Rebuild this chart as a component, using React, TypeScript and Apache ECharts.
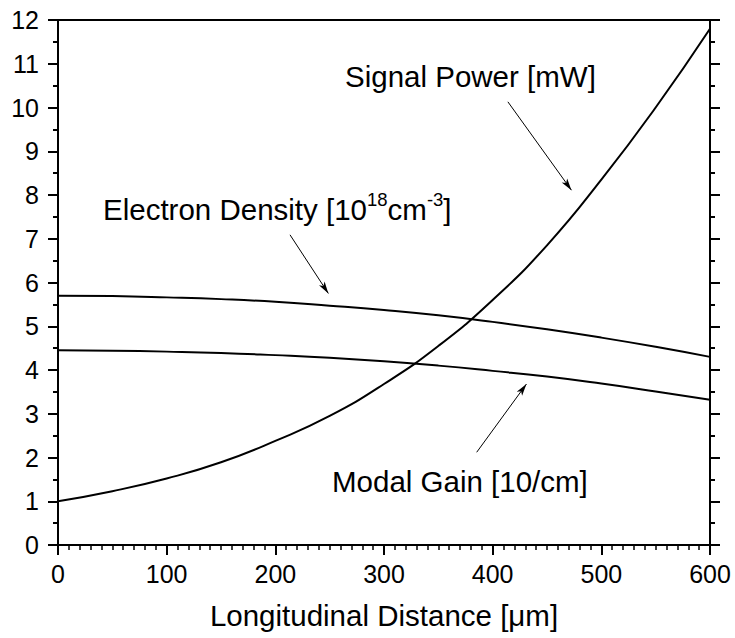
import React, { useEffect, useRef } from "react";
import * as echarts from "echarts";

// Longitudinal distance [µm]
const distance = [0, 50, 100, 150, 200, 250, 300, 350, 400, 450, 500, 550, 600];
// Signal power [mW]
const signalPower = [1.0, 1.23, 1.52, 1.89, 2.38, 2.95, 3.68, 4.55, 5.6, 6.85, 8.35, 10.0, 11.8];
// Electron density [1e18 cm^-3]
const electronDensity = [5.7, 5.69, 5.66, 5.62, 5.56, 5.47, 5.37, 5.25, 5.1, 4.93, 4.74, 4.53, 4.3];
// Modal gain [10/cm]
const modalGain = [4.45, 4.44, 4.42, 4.39, 4.34, 4.28, 4.2, 4.1, 3.98, 3.85, 3.69, 3.51, 3.32];

// Annotation arrows in data coordinates: [startX, startY, endX, endY]
const signalArrow = [414, 10.13, 472.5, 8.11];
const electronArrow = [213.5, 7.09, 248.8, 5.75];
const modalArrow = [385.3, 2.12, 431.1, 3.68];

const FONT = "'Liberation Sans', Arial, Helvetica, sans-serif";

const pairs = (ys: number[]) => distance.map((x, i) => [x, ys[i]]);

const arrow = (a: number[]) => ({
  silent: true,
  animation: false,
  label: { show: false },
  emphasis: { disabled: true },
  lineStyle: { color: "#000", width: 1, type: "solid" },
  data: [
    [
      { coord: [a[0], a[1]], symbol: "none" },
      { coord: [a[2], a[3]], symbol: "arrow", symbolSize: [5, 12] },
    ],
  ],
});

export default function App() {
  const ref = useRef<HTMLDivElement>(null);
  useEffect(() => {
    document.body.style.margin = "0";
    const chart = echarts.init(ref.current!, null, { renderer: "svg" });
    const axisLineStyle = { color: "#000", width: 2 };
    const lineSeries = (name: string, ys: number[], a: number[]) => ({
      name,
      type: "line",
      data: pairs(ys),
      smooth: true,
      showSymbol: false,
      symbol: "none",
      silent: true,
      lineStyle: { color: "#000", width: 2 },
      markLine: arrow(a),
    });
    chart.setOption({
      animation: false,
      backgroundColor: "#fff",
      textStyle: { fontFamily: FONT },
      grid: { left: 58, right: 25, top: 20, bottom: 93 },
      xAxis: [
        {
          type: "value",
          min: 0,
          max: 600,
          interval: 100,
          position: "bottom",
          axisLine: { show: true, onZero: false, lineStyle: axisLineStyle },
          axisTick: { show: true, inside: false, length: 10, lineStyle: { width: 2, color: "#000" } },
          minorTick: { show: true, splitNumber: 10, length: 5, lineStyle: { width: 1.5, color: "#000" } },
          axisLabel: { fontSize: 25, color: "#000", margin: 16, fontFamily: FONT },
          splitLine: { show: false },
          name: "Longitudinal Distance [μm]",
          nameLocation: "middle",
          nameGap: 55,
          nameTextStyle: { fontSize: 29.5, color: "#000", fontFamily: FONT },
        },
        {
          type: "value",
          min: 0,
          max: 600,
          interval: 100,
          position: "top",
          axisLine: { show: true, onZero: false, lineStyle: axisLineStyle },
          axisTick: { show: false },
          axisLabel: { show: false },
          splitLine: { show: false },
        },
      ],
      yAxis: [
        {
          type: "value",
          min: 0,
          max: 12,
          interval: 1,
          position: "left",
          axisLine: { show: true, onZero: false, lineStyle: axisLineStyle },
          axisTick: { show: true, inside: false, length: 10, lineStyle: { width: 2, color: "#000" } },
          minorTick: { show: true, splitNumber: 2, length: 5, lineStyle: { width: 2, color: "#000" } },
          axisLabel: { fontSize: 25, color: "#000", margin: 19, fontFamily: FONT },
          splitLine: { show: false },
        },
        {
          type: "value",
          min: 0,
          max: 12,
          interval: 1,
          position: "right",
          axisLine: { show: true, onZero: false, lineStyle: axisLineStyle },
          axisTick: { show: true, inside: false, length: 10, lineStyle: { width: 2, color: "#000" } },
          minorTick: { show: true, splitNumber: 2, length: 5, lineStyle: { width: 2, color: "#000" } },
          axisLabel: { show: false },
          splitLine: { show: false },
        },
      ],
      series: [
        lineSeries("Signal Power", signalPower, signalArrow),
        lineSeries("Electron Density", electronDensity, electronArrow),
        lineSeries("Modal Gain", modalGain, modalArrow),
      ],
      graphic: [
        {
          type: "text",
          x: 345,
          y: 76,
          silent: true,
          style: {
            text: "Signal Power [mW]",
            fontSize: 29.5,
            fontFamily: FONT,
            fill: "#000",
            align: "left",
            verticalAlign: "middle",
          },
        },
        {
          type: "text",
          x: 103,
          y: 190,
          silent: true,
          style: {
            text: "{n|Electron Density [10}{s|18}{n|cm}{s|-3}{n|]}",
            fill: "#000",
            align: "left",
            verticalAlign: "top",
            rich: {
              n: { fontSize: 29.5, fontFamily: FONT, lineHeight: 38, fill: "#000" },
              s: { fontSize: 18.5, fontFamily: FONT, lineHeight: 18, verticalAlign: "top", fill: "#000" },
            },
          },
        },
        {
          type: "text",
          x: 332,
          y: 481,
          silent: true,
          style: {
            text: "Modal Gain [10/cm]",
            fontSize: 29.5,
            fontFamily: FONT,
            fill: "#000",
            align: "left",
            verticalAlign: "middle",
          },
        },
      ],
    });
    return () => chart.dispose();
  }, []);
  return <div ref={ref} style={{ width: 735, height: 638 }} />;
}
